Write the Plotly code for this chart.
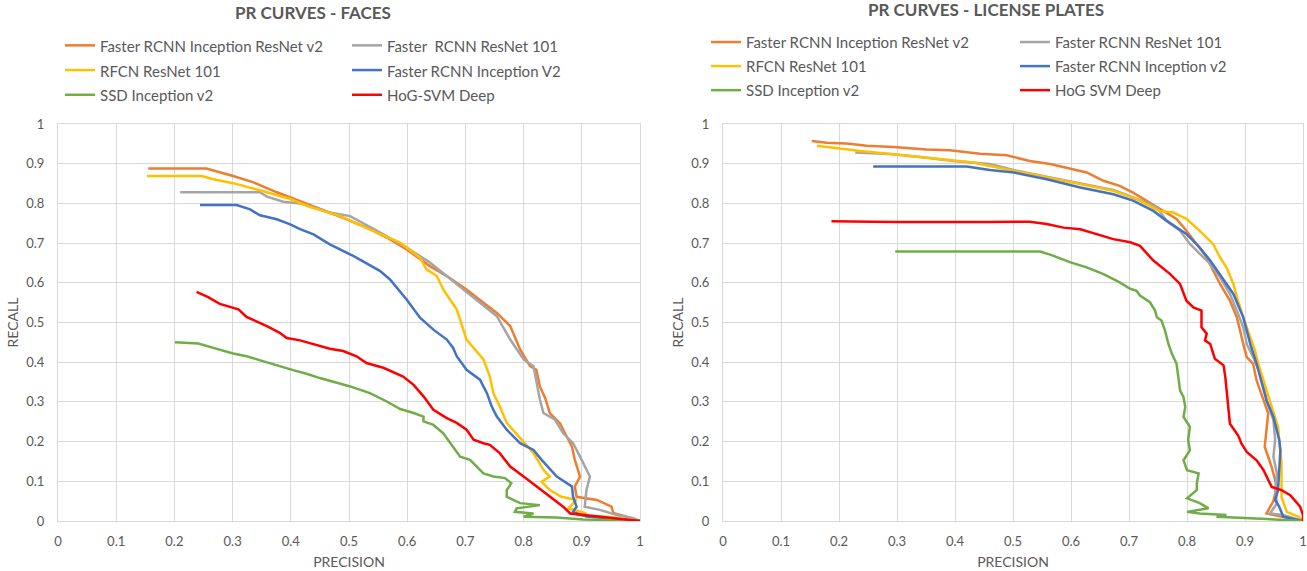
import plotly.graph_objects as go

# ---------------- data ----------------
series_names_faces = ["Faster RCNN Inception ResNet v2", "Faster  RCNN ResNet 101", "RFCN ResNet 101",
                      "Faster RCNN Inception V2", "SSD Inception v2", "HoG-SVM Deep"]
series_names_plates = ["Faster RCNN Inception ResNet v2", "Faster RCNN ResNet 101", "RFCN ResNet 101",
                       "Faster RCNN Inception v2", "SSD Inception v2", "HoG SVM Deep"]
colors = ["#ED7D31", "#A5A5A5", "#FFC000", "#4472C4", "#70AD47", "#FF0000"]

# Faces
f_orange_x = [0.155, 0.255, 0.301, 0.336, 0.376, 0.399, 0.427, 0.45, 0.496, 0.536, 0.565, 0.599, 0.639, 0.668, 0.702, 0.731, 0.754, 0.777, 0.794, 0.811, 0.822, 0.828, 0.837, 0.845, 0.863, 0.874, 0.883, 0.888, 0.897, 0.888, 0.891, 0.926, 0.951, 0.954, 0.977, 1.0]
f_orange_y = [0.888, 0.888, 0.869, 0.853, 0.828, 0.815, 0.798, 0.785, 0.76, 0.735, 0.714, 0.684, 0.642, 0.617, 0.583, 0.55, 0.524, 0.491, 0.432, 0.39, 0.381, 0.339, 0.31, 0.272, 0.245, 0.213, 0.188, 0.154, 0.112, 0.087, 0.061, 0.053, 0.036, 0.02, 0.011, 0.0]
f_gray_x = [0.21, 0.347, 0.359, 0.387, 0.416, 0.438, 0.467, 0.502, 0.553, 0.599, 0.639, 0.679, 0.719, 0.754, 0.777, 0.8, 0.817, 0.825, 0.828, 0.834, 0.854, 0.868, 0.885, 0.897, 0.914, 0.908, 0.905, 0.931, 0.96, 0.989, 1.0]
f_gray_y = [0.828, 0.828, 0.817, 0.804, 0.8, 0.791, 0.777, 0.768, 0.727, 0.689, 0.651, 0.604, 0.558, 0.516, 0.457, 0.407, 0.39, 0.331, 0.306, 0.272, 0.255, 0.221, 0.196, 0.162, 0.112, 0.078, 0.036, 0.028, 0.015, 0.007, 0.0]
f_yellow_x = [0.153, 0.247, 0.267, 0.301, 0.347, 0.399, 0.433, 0.467, 0.485, 0.547, 0.588, 0.622, 0.633, 0.651, 0.662, 0.685, 0.696, 0.702, 0.731, 0.742, 0.748, 0.759, 0.771, 0.794, 0.817, 0.834, 0.845, 0.831, 0.845, 0.865, 0.891, 0.877, 0.908, 0.891, 0.943, 1.0]
f_yellow_y = [0.869, 0.869, 0.861, 0.851, 0.833, 0.811, 0.791, 0.775, 0.768, 0.727, 0.701, 0.663, 0.634, 0.617, 0.583, 0.533, 0.482, 0.457, 0.407, 0.364, 0.322, 0.289, 0.247, 0.209, 0.171, 0.129, 0.112, 0.099, 0.078, 0.061, 0.053, 0.032, 0.019, 0.015, 0.011, 0.0]
f_blue_x = [0.244, 0.307, 0.33, 0.347, 0.376, 0.399, 0.416, 0.439, 0.467, 0.508, 0.553, 0.57, 0.599, 0.622, 0.645, 0.668, 0.679, 0.685, 0.702, 0.725, 0.737, 0.745, 0.754, 0.771, 0.794, 0.817, 0.831, 0.857, 0.883, 0.885, 0.891, 0.885, 0.908, 1.0]
f_blue_y = [0.796, 0.796, 0.785, 0.77, 0.76, 0.747, 0.735, 0.722, 0.697, 0.667, 0.63, 0.609, 0.558, 0.512, 0.482, 0.457, 0.436, 0.415, 0.381, 0.356, 0.322, 0.289, 0.263, 0.23, 0.196, 0.179, 0.154, 0.112, 0.087, 0.061, 0.036, 0.023, 0.011, 0.0]
f_red_x = [0.238, 0.258, 0.278, 0.296, 0.31, 0.324, 0.359, 0.381, 0.393, 0.416, 0.445, 0.467, 0.49, 0.513, 0.53, 0.559, 0.593, 0.611, 0.628, 0.645, 0.668, 0.685, 0.702, 0.714, 0.731, 0.742, 0.759, 0.777, 0.8, 0.822, 0.845, 0.868, 0.88, 0.931, 1.0]
f_red_y = [0.577, 0.564, 0.547, 0.539, 0.533, 0.514, 0.491, 0.474, 0.461, 0.455, 0.444, 0.434, 0.428, 0.415, 0.398, 0.386, 0.364, 0.343, 0.314, 0.28, 0.259, 0.247, 0.23, 0.205, 0.196, 0.192, 0.171, 0.137, 0.112, 0.087, 0.061, 0.036, 0.019, 0.011, 0.0]
f_green_x = [0.201, 0.241, 0.267, 0.301, 0.324, 0.353, 0.381, 0.404, 0.427, 0.45, 0.502, 0.536, 0.565, 0.588, 0.611, 0.628, 0.628, 0.645, 0.662, 0.674, 0.691, 0.708, 0.719, 0.731, 0.748, 0.759, 0.768, 0.779, 0.771, 0.771, 0.794, 0.828, 0.788, 0.785, 0.817, 0.8, 0.857, 0.902, 1.0]
f_green_y = [0.45, 0.447, 0.436, 0.422, 0.415, 0.402, 0.391, 0.38, 0.371, 0.36, 0.339, 0.322, 0.301, 0.282, 0.272, 0.263, 0.251, 0.242, 0.221, 0.196, 0.162, 0.154, 0.137, 0.12, 0.112, 0.109, 0.108, 0.095, 0.078, 0.061, 0.045, 0.04, 0.032, 0.023, 0.019, 0.011, 0.009, 0.004, 0.0]

# License plates
p_orange_x = [0.153, 0.179, 0.213, 0.248, 0.294, 0.351, 0.391, 0.42, 0.443, 0.489, 0.529, 0.564, 0.593, 0.627, 0.656, 0.684, 0.707, 0.736, 0.759, 0.782, 0.799, 0.817, 0.834, 0.845, 0.857, 0.874, 0.886, 0.897, 0.903, 0.914, 0.92, 0.926, 0.94, 0.934, 0.946, 0.955, 0.949, 0.937, 0.97, 1.0]
p_orange_y = [0.957, 0.953, 0.951, 0.945, 0.942, 0.936, 0.934, 0.928, 0.925, 0.921, 0.907, 0.899, 0.89, 0.878, 0.857, 0.844, 0.827, 0.802, 0.781, 0.761, 0.731, 0.698, 0.664, 0.631, 0.597, 0.555, 0.513, 0.446, 0.413, 0.396, 0.354, 0.329, 0.271, 0.187, 0.136, 0.086, 0.05, 0.019, 0.01, 0.0]
p_gray_x = [0.228, 0.259, 0.294, 0.351, 0.397, 0.46, 0.501, 0.558, 0.616, 0.673, 0.713, 0.748, 0.765, 0.788, 0.805, 0.822, 0.84, 0.857, 0.874, 0.886, 0.897, 0.903, 0.914, 0.926, 0.934, 0.937, 0.949, 0.952, 0.949, 0.955, 0.952, 0.955, 0.943, 0.966, 1.0]
p_gray_y = [0.928, 0.926, 0.924, 0.915, 0.907, 0.899, 0.884, 0.867, 0.85, 0.834, 0.812, 0.79, 0.756, 0.731, 0.698, 0.673, 0.647, 0.614, 0.572, 0.53, 0.488, 0.446, 0.413, 0.371, 0.337, 0.304, 0.254, 0.204, 0.162, 0.12, 0.078, 0.044, 0.019, 0.015, 0.0]
p_yellow_x = [0.162, 0.19, 0.236, 0.294, 0.351, 0.397, 0.432, 0.46, 0.501, 0.558, 0.616, 0.673, 0.713, 0.753, 0.776, 0.799, 0.822, 0.845, 0.857, 0.868, 0.88, 0.886, 0.897, 0.909, 0.917, 0.923, 0.932, 0.943, 0.957, 0.963, 0.963, 0.972, 0.992, 1.0]
p_yellow_y = [0.945, 0.94, 0.932, 0.924, 0.915, 0.907, 0.903, 0.894, 0.882, 0.865, 0.848, 0.832, 0.811, 0.781, 0.777, 0.761, 0.731, 0.698, 0.664, 0.639, 0.597, 0.564, 0.513, 0.463, 0.43, 0.396, 0.354, 0.304, 0.237, 0.145, 0.06, 0.023, 0.011, 0.0]
p_blue_x = [0.259, 0.42, 0.46, 0.501, 0.558, 0.616, 0.673, 0.707, 0.742, 0.765, 0.799, 0.822, 0.84, 0.863, 0.88, 0.897, 0.909, 0.92, 0.926, 0.932, 0.937, 0.949, 0.959, 0.961, 0.959, 0.957, 0.952, 0.959, 0.966, 1.0]
p_blue_y = [0.893, 0.893, 0.884, 0.878, 0.861, 0.84, 0.823, 0.807, 0.781, 0.756, 0.723, 0.689, 0.656, 0.606, 0.572, 0.513, 0.446, 0.396, 0.362, 0.329, 0.304, 0.262, 0.204, 0.178, 0.12, 0.078, 0.053, 0.036, 0.011, 0.0]
p_red_x = [0.187, 0.294, 0.46, 0.529, 0.558, 0.587, 0.616, 0.644, 0.673, 0.702, 0.719, 0.742, 0.771, 0.788, 0.799, 0.811, 0.825, 0.825, 0.834, 0.831, 0.84, 0.848, 0.863, 0.866, 0.868, 0.871, 0.874, 0.888, 0.894, 0.903, 0.92, 0.932, 0.94, 0.946, 0.963, 0.978, 0.995, 1.0, 1.0]
p_red_y = [0.755, 0.753, 0.753, 0.754, 0.748, 0.739, 0.735, 0.723, 0.71, 0.702, 0.693, 0.656, 0.622, 0.597, 0.555, 0.538, 0.53, 0.488, 0.472, 0.455, 0.446, 0.409, 0.392, 0.363, 0.329, 0.287, 0.245, 0.216, 0.195, 0.174, 0.153, 0.128, 0.103, 0.086, 0.078, 0.065, 0.036, 0.015, 0.0]
p_green_x = [0.297, 0.547, 0.564, 0.598, 0.627, 0.656, 0.684, 0.702, 0.713, 0.719, 0.736, 0.745, 0.748, 0.756, 0.762, 0.768, 0.774, 0.782, 0.785, 0.788, 0.794, 0.797, 0.794, 0.805, 0.802, 0.805, 0.794, 0.8, 0.82, 0.817, 0.817, 0.8, 0.822, 0.837, 0.8, 0.822, 0.868, 0.851, 0.909, 1.0]
p_green_y = [0.679, 0.679, 0.671, 0.652, 0.639, 0.622, 0.601, 0.585, 0.58, 0.568, 0.551, 0.53, 0.513, 0.505, 0.48, 0.446, 0.421, 0.396, 0.363, 0.329, 0.312, 0.287, 0.262, 0.237, 0.204, 0.178, 0.153, 0.128, 0.12, 0.095, 0.078, 0.057, 0.045, 0.032, 0.023, 0.019, 0.015, 0.011, 0.007, 0.0]

faces = [(f_orange_x, f_orange_y), (f_gray_x, f_gray_y), (f_yellow_x, f_yellow_y),
         (f_blue_x, f_blue_y), (f_green_x, f_green_y), (f_red_x, f_red_y)]
plates = [(p_orange_x, p_orange_y), (p_gray_x, p_gray_y), (p_yellow_x, p_yellow_y),
          (p_blue_x, p_blue_y), (p_green_x, p_green_y), (p_red_x, p_red_y)]

titles = ["PR CURVES - FACES", "PR CURVES - LICENSE PLATES"]
x_title = "PRECISION"
y_title = "RECALL"
tick_vals = [0, 0.1, 0.2, 0.3, 0.4, 0.5, 0.6, 0.7, 0.8, 0.9, 1]
tick_text = ["0", "0.1", "0.2", "0.3", "0.4", "0.5", "0.6", "0.7", "0.8", "0.9", "1"]

# ---------------- figure ----------------
TXT = "#595959"
GRID = "#d9d9d9"
FONT = "Lato, Open Sans, sans-serif"


def legend_label(name):
    # legend rows are spaced by the legend font size; the label itself is drawn a bit smaller
    return "<span style='font-size:15px'>" + name + "</span>"


fig = go.Figure()
for i, (x, y) in enumerate(faces):
    fig.add_trace(go.Scatter(x=x, y=y, mode="lines", name=legend_label(series_names_faces[i]),
                             line=dict(color=colors[i], width=2.5),
                             legend="legend", legendgroup="fa" if i % 2 == 0 else "fb",
                             legendwidth=242 if i % 2 == 0 else 170,
                             xaxis="x", yaxis="y"))
for i, (x, y) in enumerate(plates):
    fig.add_trace(go.Scatter(x=x, y=y, mode="lines", name=legend_label(series_names_plates[i]),
                             line=dict(color=colors[i], width=2.5),
                             legend="legend2", legendgroup="pa" if i % 2 == 0 else "pb",
                             legendwidth=264 if i % 2 == 0 else 170,
                             xaxis="x2", yaxis="y2"))

W, H = 1307, 571
ML, MR, MT, MB = 58, 4, 124, 50
PW = W - ML - MR
PH = H - MT - MB


def px_x(p):
    return (p - ML) / PW


def px_y(p):
    return (H - MB - p) / PH


axis_common = dict(range=[0, 1], tickmode="array", tickvals=tick_vals, ticktext=tick_text,
                   showgrid=True, gridcolor=GRID, gridwidth=1, zeroline=False,
                   showline=True, linecolor=GRID, linewidth=1, mirror=True,
                   tickfont=dict(family=FONT, size=13, color=TXT), ticks="",
                   fixedrange=True, automargin=False)

fig.update_layout(
    width=W, height=H,
    margin=dict(l=ML, r=MR, t=MT, b=MB, pad=0, autoexpand=False),
    paper_bgcolor="white", plot_bgcolor="white",
    font=dict(family=FONT, color=TXT),
    xaxis=dict(domain=[0, px_x(640)], anchor="y",
               title=dict(text=x_title, font=dict(family=FONT, size=14, color=TXT), standoff=9),
               ticklabelstandoff=8, **axis_common),
    yaxis=dict(domain=[0, 1], anchor="x",
               title=dict(text=y_title, font=dict(family=FONT, size=14, color=TXT), standoff=4),
               ticklabelstandoff=10, **axis_common),
    xaxis2=dict(domain=[px_x(723), 1], anchor="y2",
                title=dict(text=x_title, font=dict(family=FONT, size=14, color=TXT), standoff=9),
                ticklabelstandoff=8, **axis_common),
    yaxis2=dict(domain=[0, 1], anchor="x2",
                title=dict(text=y_title, font=dict(family=FONT, size=14, color=TXT), standoff=4),
                ticklabelstandoff=10, **axis_common),
    legend=dict(orientation="h", traceorder="grouped", x=px_x(60), y=px_y(28),
                xanchor="left", yanchor="top", itemwidth=30,
                font=dict(family=FONT, size=16.7, color=TXT), bgcolor="rgba(0,0,0,0)",
                itemclick=False, itemdoubleclick=False),
    legend2=dict(orientation="h", traceorder="grouped", x=px_x(706), y=px_y(25),
                 xanchor="left", yanchor="top", itemwidth=30,
                 font=dict(family=FONT, size=16.2, color=TXT), bgcolor="rgba(0,0,0,0)",
                 itemclick=False, itemdoubleclick=False),
    annotations=[
        dict(text="<b>" + titles[0] + "</b>", x=px_x(313), y=px_y(12), xref="paper", yref="paper",
             xanchor="center", yanchor="middle", showarrow=False,
             font=dict(family=FONT, size=17, color=TXT)),
        dict(text="<b>" + titles[1] + "</b>", x=px_x(986), y=px_y(10), xref="paper", yref="paper",
             xanchor="center", yanchor="middle", showarrow=False,
             font=dict(family=FONT, size=17, color=TXT)),
    ],
)

fig.write_html("out.html", post_script="document.body.style.margin='0';",
               config={"displayModeBar": False})
